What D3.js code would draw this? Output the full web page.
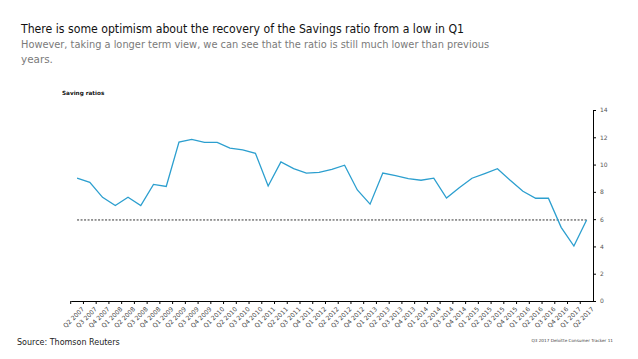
<!DOCTYPE html>
<html><head><meta charset="utf-8">
<script src="https://cdn.jsdelivr.net/npm/d3@7"></script>
<style>body{margin:0;background:#fff}svg{display:block}</style>
</head><body>
<svg id="c" width="638" height="359"></svg>
<script>
const categories = ["Q2 2007","Q3 2007","Q4 2007","Q1 2008","Q2 2008","Q3 2008","Q4 2008","Q1 2009","Q2 2009","Q3 2009","Q4 2009","Q1 2010","Q2 2010","Q3 2010","Q4 2010","Q1 2011","Q2 2011","Q3 2011","Q4 2011","Q1 2012","Q2 2012","Q3 2012","Q4 2012","Q1 2013","Q2 2013","Q3 2013","Q4 2013","Q1 2014","Q2 2014","Q3 2014","Q4 2014","Q1 2015","Q2 2015","Q3 2015","Q4 2015","Q1 2016","Q2 2016","Q3 2016","Q4 2016","Q1 2017","Q2 2017"];
const savingRatio = [9.0,8.7,7.6,7.0,7.6,7.0,8.55,8.4,11.65,11.85,11.63,11.63,11.2,11.07,10.83,8.43,10.2,9.7,9.38,9.43,9.65,9.95,8.14,7.1,9.38,9.19,8.97,8.85,9.0,7.55,8.3,9.0,9.34,9.7,8.85,8.04,7.53,7.53,5.4,4.03,5.94];
const referenceLevel = [5.94];
const yTicks = [0,2,4,6,8,10,12,14];

const svg = d3.select("#c");
const font = "DejaVu Sans, Verdana, sans-serif";

const x = d3.scaleBand().domain(categories).range([70.7, 593]);
const y = d3.scaleLinear().domain([0,14]).range([301,110]);
const cx = d => x(d) + x.bandwidth()/2;

// titles
svg.append("text").attr("x",21).attr("y",33).attr("font-family",font).attr("font-size",12.5).attr("fill","#111")
  .attr("textLength",443).attr("lengthAdjust","spacingAndGlyphs")
  .text("There is some optimism about the recovery of the Savings ratio from a low in Q1");
svg.append("text").attr("x",21).attr("y",47.5).attr("font-family",font).attr("font-size",10.4).attr("fill","#7a7a7a")
  .attr("textLength",468).attr("lengthAdjust","spacingAndGlyphs")
  .text("However, taking a longer term view, we can see that the ratio is still much lower than previous");
svg.append("text").attr("x",21).attr("y",63).attr("font-family",font).attr("font-size",10.4).attr("fill","#7a7a7a")
  .text("years.");

svg.append("text").attr("x",62).attr("y",95).attr("font-family",font).attr("font-size",5.7).attr("font-weight","bold").attr("fill","#111")
  .text("Saving ratios");

// y axis (right)
const yAxis = d3.axisRight(y).tickValues(yTicks).tickSize(3).tickPadding(4);
const gy = svg.append("g").attr("transform","translate(593,0)").call(yAxis);
gy.select(".domain").attr("stroke","#000").attr("stroke-width",1);
gy.selectAll(".tick line").attr("stroke","#000");
gy.selectAll(".tick text").attr("font-family",font).attr("font-size",6).attr("fill","#555");

// x axis
const xAxis = d3.axisBottom(x).tickSize(3).tickSizeOuter(0).tickPadding(3);
const gx = svg.append("g").attr("transform","translate(0,301)").call(xAxis);
gx.select(".domain").attr("stroke","#000").attr("stroke-width",1.2);
gx.selectAll(".tick line").attr("stroke","#000").attr("transform",`translate(${-x.bandwidth()/2},0)`);
gx.selectAll(".tick text").attr("font-family",font).attr("font-size",6.2).attr("fill","#444")
  .attr("text-anchor","end").attr("dy","0.3em")
  .attr("transform","translate(2,3) rotate(-45)");

// reference dotted line
svg.append("line").attr("x1",cx(categories[0])).attr("x2",cx(categories[categories.length-1]))
  .attr("y1",y(referenceLevel[0])).attr("y2",y(referenceLevel[0]))
  .attr("stroke","#333").attr("stroke-width",1).attr("stroke-dasharray","2,1.5");

// line
const line = d3.line().x((d,i)=>cx(categories[i])).y(d=>y(d));
svg.append("path").datum(savingRatio).attr("d",line).attr("fill","none")
  .attr("stroke","#2c9fcf").attr("stroke-width",1.3);

// footer
svg.append("text").attr("x",17).attr("y",345).attr("font-family",font).attr("font-size",8).attr("fill","#222")
  .text("Source: Thomson Reuters");
svg.append("text").attr("x",613).attr("y",342).attr("text-anchor","end").attr("font-family",font).attr("font-size",4.2).attr("fill","#444")
  .text("Q3 2017 Deloitte Consumer Tracker 11");
</script>
</body></html>
